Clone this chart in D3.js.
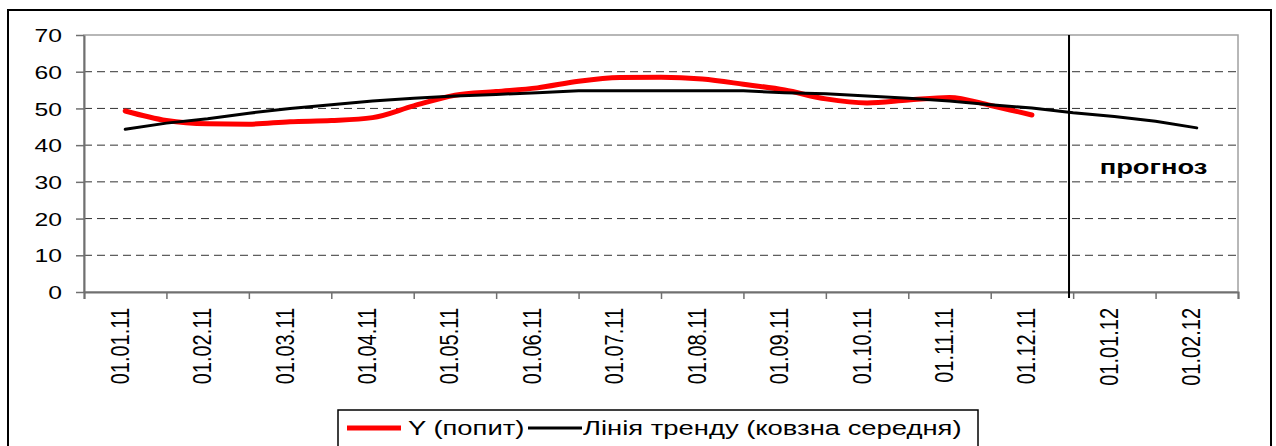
<!DOCTYPE html>
<html>
<head>
<meta charset="utf-8">
<script src="https://cdn.jsdelivr.net/npm/d3@7"></script>
<style>
  html, body { margin: 0; padding: 0; background: #fff; overflow: hidden; }
  svg { display: block; }
  text { font-family: "Liberation Sans", Arial, sans-serif; }
</style>
</head>
<body>
<svg id="chart"></svg>
<script>
// category labels under the x axis
let months = ['01.01.11', '01.02.11', '01.03.11', '01.04.11', '01.05.11', '01.06.11', '01.07.11',
              '01.08.11', '01.09.11', '01.10.11', '01.11.11', '01.12.11', '01.01.12', '01.02.12']

let yTicks = [0, 10, 20, 30, 40, 50, 60, 70]

// Y (попит), read every half month starting at the middle of 01.01.11
let demand = [49.3, 46.7, 45.8, 45.7, 46.4, 46.7, 47.5, 50.7, 53.6, 54.6, 55.6, 57.4,
              58.4, 58.5, 58.0, 56.6, 55.0, 52.6, 51.5, 52.3, 53.0, 50.8, 48.2]

// moving average trend, same half-month steps, runs into the forecast
let trend = [44.3, 46.0, 47.2, 48.7, 50.0, 51.0, 52.0, 52.8, 53.4, 53.8, 54.3, 54.8,
             54.8, 54.8, 54.8, 54.8, 54.3, 54.0, 53.4, 52.8, 52.0, 51.0, 50.1, 48.8,
             47.8, 46.5, 44.7]

// where the forecast part begins (in months from the first tick)
let forecastAt = 11.95

let legendNames = ['Y (попит)', 'Лінія тренду (ковзна середня)']

//sizes
let outerWidth = 1276
let outerHeight = 446
let margins = { top: 35, bottom: 154, left: 84, right: 38 }
let innerWidth = outerWidth - margins.left - margins.right
let innerHeight = outerHeight - margins.top - margins.bottom
// the original picture is stretched sideways, so its text is too
let S = 1.3
let SL = 1.37

//stretch a horizontal text sideways by factor k
function widen(sel, k) {
  sel.each(function () {
    let len = this.getComputedTextLength()
    d3.select(this)
      .attr('textLength', len * k)
      .attr('lengthAdjust', 'spacingAndGlyphs')
  })
}

let svg = d3.select('svg#chart')
  .attr('width', outerWidth)
  .attr('height', outerHeight)

//outer frame (bottom edge lies below the picture, as in the original)
svg.append('rect')
  .attr('x', 8).attr('y', 10)
  .attr('width', 1263).attr('height', 460)
  .attr('fill', 'none')
  .attr('stroke', '#000')
  .attr('stroke-width', 2)

let inner = svg.append('g')
  .attr('transform', 'translate(' + margins.left + ',' + margins.top + ')')

//scales
let xScale = d3.scaleLinear().domain([0, months.length]).range([0, innerWidth])
let xBand = d3.scaleBand().domain(months).range([0, innerWidth])
let yScale = d3.scaleLinear().domain([0, 70]).range([innerHeight, 0])

//plot area border (top and right are light grey)
inner.append('rect')
  .attr('width', innerWidth)
  .attr('height', innerHeight)
  .attr('fill', 'none')
  .attr('stroke', '#a0a0a0')
  .attr('stroke-width', 1.5)

//dashed gridlines
inner.append('g')
  .selectAll('line')
  .data(yTicks.filter(d => d > 0 && d < 70))
  .join('line')
  .attr('x1', 0).attr('x2', innerWidth)
  .attr('y1', d => yScale(d)).attr('y2', d => yScale(d))
  .attr('stroke', '#333')
  .attr('stroke-width', 1)
  .attr('stroke-dasharray', '8,5')

//y axis
let yAxis = d3.axisLeft(yScale).tickValues(yTicks).tickSize(8).tickSizeOuter(0)
let gy = inner.append('g').call(yAxis)
  .attr('font-size', 19)
  .attr('font-family', null)
gy.select('.domain').attr('stroke', '#707070').attr('stroke-width', 2)
gy.selectAll('.tick line').attr('stroke', '#707070').attr('stroke-width', 1.5)
gy.selectAll('.tick text')
  .attr('x', -22)
  .attr('dy', '0.35em')
  .attr('fill', '#000')
  .call(widen, S)

//x axis tick marks at month boundaries
let xAxis = d3.axisBottom(xScale).tickValues(d3.range(months.length + 1)).tickSize(7).tickFormat('')
let gx = inner.append('g')
  .attr('transform', 'translate(0,' + innerHeight + ')')
  .call(xAxis)
gx.select('.domain').attr('stroke', '#707070').attr('stroke-width', 2)
gx.selectAll('.tick line').attr('stroke', '#707070').attr('stroke-width', 1.5)
gx.selectAll('.tick text').remove()

//month labels, rotated
let gxl = inner.append('g')
  .attr('transform', 'translate(0,' + innerHeight + ')')
  .call(d3.axisBottom(xBand).tickSize(0))
  .attr('font-size', 20)
  .attr('font-family', null)
gxl.select('.domain').remove()
gxl.selectAll('.tick text')
  .attr('transform', `scale(${S},1) rotate(-90)`)
  .attr('text-anchor', 'end')
  .attr('x', -16)
  .attr('y', 2.7)
  .attr('dy', 0)
  .attr('fill', '#000')

//lines
let demandLine = d3.line()
  .x((d, i) => xScale(0.5 + i * 0.5))
  .y(d => yScale(d))
  .curve(d3.curveMonotoneX)

let trendLine = d3.line()
  .x((d, i) => xScale(0.5 + i * 0.5))
  .y(d => yScale(d))

inner.append('path')
  .datum(demand)
  .attr('d', demandLine)
  .attr('fill', 'none')
  .attr('stroke', '#ff0000')
  .attr('stroke-width', 5)
  .attr('stroke-linecap', 'round')

inner.append('path')
  .datum(trend)
  .attr('d', trendLine)
  .attr('fill', 'none')
  .attr('stroke', '#000')
  .attr('stroke-width', 3)
  .attr('stroke-linecap', 'round')

//forecast divider
inner.append('line')
  .attr('x1', xScale(forecastAt)).attr('x2', xScale(forecastAt))
  .attr('y1', 0).attr('y2', innerHeight + 6)
  .attr('stroke', '#000')
  .attr('stroke-width', 2)

inner.append('text')
  .attr('x', (xScale(forecastAt) + innerWidth) / 2)
  .attr('y', yScale(32.1))
  .attr('text-anchor', 'middle')
  .attr('font-size', 21)
  .attr('font-weight', 'bold')
  .text('прогноз')
  .call(widen, S)

//legend
let legend = svg.append('g')
legend.append('rect')
  .attr('x', 338).attr('y', 410)
  .attr('width', 640).attr('height', 60)
  .attr('fill', '#fff')
  .attr('stroke', '#000')
  .attr('stroke-width', 1.5)

let legendItems = [
  { name: legendNames[0], color: '#ff0000', width: 5, x: 347, gap: 61 },
  { name: legendNames[1], color: '#000', width: 3, x: 528, gap: 55 }
]
legendItems.forEach(it => {
  legend.append('line')
    .attr('x1', it.x).attr('x2', it.x + 54)
    .attr('y1', 428).attr('y2', 428)
    .attr('stroke', it.color)
    .attr('stroke-width', it.width)
  legend.append('text')
    .attr('x', it.x + it.gap)
    .attr('y', 435)
    .attr('font-size', 20)
    .text(it.name)
    .call(widen, SL)
})
</script>
</body>
</html>
